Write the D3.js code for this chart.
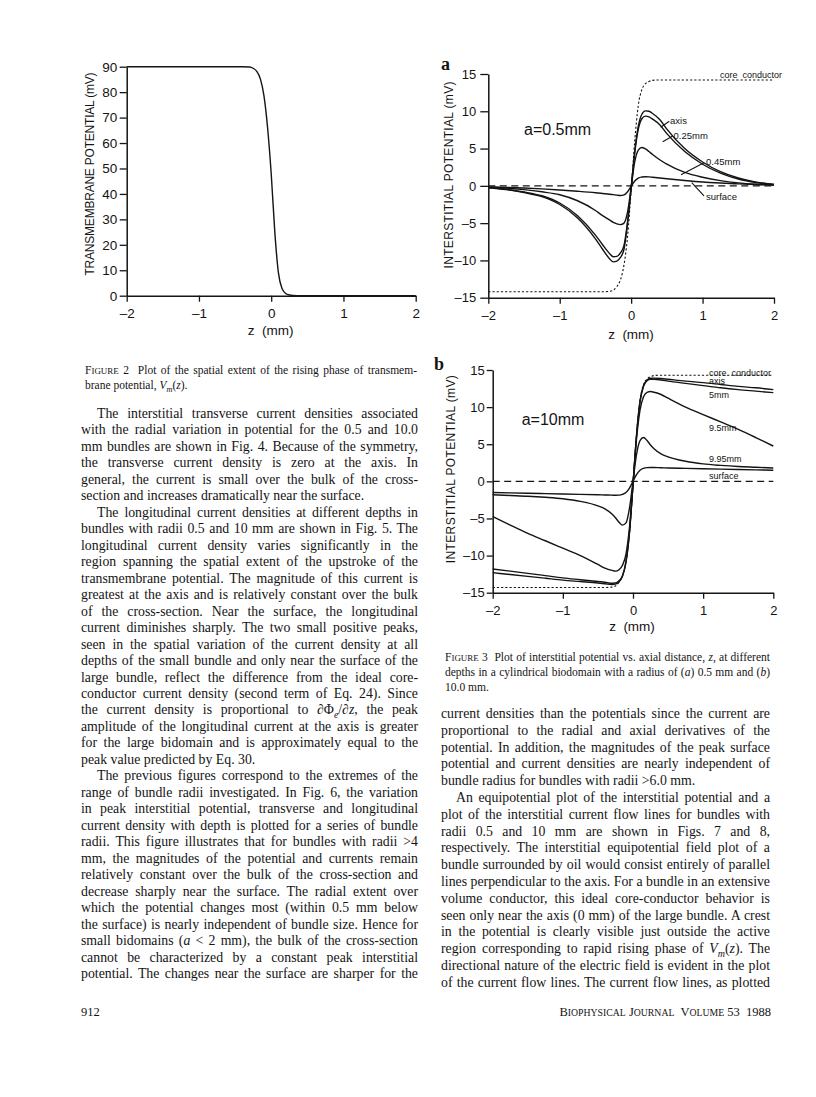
<!DOCTYPE html>
<html><head><meta charset="utf-8">
<script src="https://cdn.jsdelivr.net/npm/d3@7/dist/d3.min.js"></script>
<style>
html,body{margin:0;padding:0;background:#fff;}
svg{display:block;}
</style></head>
<body>
<svg id="page" width="816" height="1097" xmlns="http://www.w3.org/2000/svg"></svg>
<script>
// ---------------- data ----------------
const xTickValues = [-2, -1, 0, 1, 2];
const fig2YTicks = [0, 10, 20, 30, 40, 50, 60, 70, 80, 90];
const fig3YTicks = [-15, -10, -5, 0, 5, 10, 15];

// Figure 2: transmembrane potential Vm(z)
const fig2Z  = [-2, -0.4, -0.3, -0.25, -0.2, -0.15, -0.1, -0.05, 0, 0.05, 0.1, 0.15, 0.2, 0.25, 0.3, 0.4, 2];
const fig2Vm = [90, 90, 89.9, 89.4, 88.2, 85.2, 78.5, 66, 48, 25, 9, 2.8, 0.9, 0.3, 0.08, 0, 0];

// Figure 3 common z grid (mm)
const zGrid = [-2, -1.75, -1.5, -1.25, -1, -0.75, -0.5, -0.4, -0.3, -0.25, -0.2, -0.15, -0.1, -0.05, 0,
               0.05, 0.1, 0.15, 0.2, 0.25, 0.3, 0.4, 0.5, 0.75, 1, 1.25, 1.5, 1.75, 2];

// Figure 3a (a = 0.5 mm)
const coreA = [-14.2, -14.2, -14.2, -14.2, -14.2, -14.2, -14.2, -14.2, -14.15, -14.0, -13.5, -12.6, -10.6, -6.8, -0.6,
               6.0, 10.8, 12.9, 13.7, 14.0, 14.15, 14.2, 14.2, 14.2, 14.2, 14.2, 14.2, 14.2, 14.2];
const axisA = [-0.25, -0.5, -0.9, -1.45, -2.5, -4.3, -7.1, -8.5, -9.8, -10.2, -10.1, -9.6, -8.5, -5.0, -0.3,
               4.6, 8.0, 9.6, 10.05, 10.0, 9.7, 8.9, 7.6, 5.0, 3.2, 1.9, 1.05, 0.5, 0.2];
const r025A = [-0.22, -0.45, -0.82, -1.33, -2.3, -4.0, -6.6, -7.9, -9.1, -9.5, -9.45, -9.0, -8.0, -4.8, -0.3,
               4.4, 7.6, 9.0, 9.35, 9.25, 8.95, 8.2, 7.0, 4.6, 2.9, 1.7, 0.92, 0.45, 0.18];
const r045A = [-0.15, -0.3, -0.5, -0.8, -1.2, -2.0, -3.3, -4.0, -4.6, -4.9, -5.1, -5.2, -5.0, -3.5, -0.2,
               3.2, 4.8, 5.15, 4.95, 4.6, 4.2, 3.5, 2.9, 1.8, 1.15, 0.7, 0.4, 0.22, 0.1];
const surfA = [-0.15, -0.2, -0.28, -0.4, -0.55, -0.72, -0.92, -1.02, -1.12, -1.18, -1.25, -1.3, -1.22, -0.8, -0.05,
               0.65, 1.05, 1.18, 1.22, 1.2, 1.15, 1.05, 0.95, 0.72, 0.52, 0.38, 0.27, 0.18, 0.12];

// Figure 3b (a = 10 mm)
const coreB = [-14.3, -14.3, -14.3, -14.3, -14.3, -14.3, -14.3, -14.3, -14.25, -14.1, -13.6, -12.7, -10.7, -6.9, -0.6,
               6.1, 10.9, 13.0, 13.8, 14.1, 14.25, 14.3, 14.3, 14.3, 14.3, 14.3, 14.3, 14.3, 14.3];
const axisB = [-12.3, -12.55, -12.8, -13.05, -13.3, -13.5, -13.7, -13.8, -13.9, -13.85, -13.55, -12.8, -10.9, -6.9, -0.5,
               6.2, 10.8, 12.9, 13.65, 13.88, 13.9, 13.85, 13.75, 13.5, 13.3, 13.05, 12.8, 12.6, 12.35];
const r5B   = [-11.8, -12.1, -12.4, -12.7, -13.0, -13.25, -13.5, -13.6, -13.72, -13.7, -13.4, -12.7, -10.8, -6.8, -0.45,
               6.1, 10.7, 12.8, 13.55, 13.75, 13.75, 13.65, 13.5, 13.2, 12.9, 12.6, 12.35, 12.15, 11.95];
const r95B  = [-4.75, -5.9, -7.0, -8.0, -9.0, -10.0, -11.2, -11.7, -12.0, -12.1, -11.9, -11.3, -9.8, -6.2, -0.3,
               5.7, 9.6, 11.4, 12.0, 12.1, 12.0, 11.7, 11.2, 10.0, 9.0, 8.0, 7.0, 5.9, 4.75];
const r995B = [-1.8, -1.9, -2.0, -2.15, -2.35, -2.7, -3.3, -3.7, -4.4, -4.9, -5.5, -5.9, -5.6, -3.6, 0,
               3.6, 5.5, 5.9, 5.5, 4.9, 4.4, 3.7, 3.3, 2.7, 2.35, 2.15, 2.0, 1.9, 1.8];
const surfB = [-1.5, -1.55, -1.6, -1.65, -1.7, -1.75, -1.8, -1.83, -1.86, -1.87, -1.85, -1.75, -1.5, -0.9, 0,
               0.9, 1.5, 1.75, 1.85, 1.87, 1.86, 1.83, 1.8, 1.75, 1.7, 1.65, 1.6, 1.55, 1.5];

// ---------------- text ----------------
const leftLines = [
"The interstitial transverse current densities associated",
"with the radial variation in potential for the 0.5 and 10.0",
"mm bundles are shown in Fig. 4. Because of the symmetry,",
"the transverse current density is zero at the axis. In",
"general, the current is small over the bulk of the cross-",
"section and increases dramatically near the surface.",
"The longitudinal current densities at different depths in",
"bundles with radii 0.5 and 10 mm are shown in Fig. 5. The",
"longitudinal current density varies significantly in the",
"region spanning the spatial extent of the upstroke of the",
"transmembrane potential. The magnitude of this current is",
"greatest at the axis and is relatively constant over the bulk",
"of the cross-section. Near the surface, the longitudinal",
"current diminishes sharply. The two small positive peaks,",
"seen in the spatial variation of the current density at all",
"depths of the small bundle and only near the surface of the",
"large bundle, reflect the difference from the ideal core-",
"conductor current density (second term of Eq. 24). Since",
"the current density is proportional to ∂Φ<sub>e</sub>/∂<i>z</i>, the peak",
"amplitude of the longitudinal current at the axis is greater",
"for the large bidomain and is approximately equal to the",
"peak value predicted by Eq. 30.",
"The previous figures correspond to the extremes of the",
"range of bundle radii investigated. In Fig. 6, the variation",
"in peak interstitial potential, transverse and longitudinal",
"current density with depth is plotted for a series of bundle",
"radii. This figure illustrates that for bundles with radii >4",
"mm, the magnitudes of the potential and currents remain",
"relatively constant over the bulk of the cross-section and",
"decrease sharply near the surface. The radial extent over",
"which the potential changes most (within 0.5 mm below",
"the surface) is nearly independent of bundle size. Hence for",
"small bidomains (<i>a</i> < 2 mm), the bulk of the cross-section",
"cannot be characterized by a constant peak interstitial",
"potential. The changes near the surface are sharper for the"
];
const leftParaStarts = [0, 6, 22];
const leftParaEnds = [5, 21];

const rightLines = [
"current densities than the potentials since the current are",
"proportional to the radial and axial derivatives of the",
"potential. In addition, the magnitudes of the peak surface",
"potential and current densities are nearly independent of",
"bundle radius for bundles with radii >6.0 mm.",
"An equipotential plot of the interstitial potential and a",
"plot of the interstitial current flow lines for bundles with",
"radii 0.5 and 10 mm are shown in Figs. 7 and 8,",
"respectively. The interstitial equipotential field plot of a",
"bundle surrounded by oil would consist entirely of parallel",
"lines perpendicular to the axis. For a bundle in an extensive",
"volume conductor, this ideal core-conductor behavior is",
"seen only near the axis (0 mm) of the large bundle. A crest",
"in the potential is clearly visible just outside the active",
"region corresponding to rapid rising phase of <i>V</i><sub>m</sub>(<i>z</i>). The",
"directional nature of the electric field is evident in the plot",
"of the current flow lines. The current flow lines, as plotted"
];
const rightParaStarts = [5];
const rightParaEnds = [4];

const fig2Caption = [
"<sc>Figure</sc> 2  Plot of the spatial extent of the rising phase of transmem-",
"brane potential, <i>V</i><sub>m</sub>(<i>z</i>)."
];
const fig3Caption = [
"<sc>Figure</sc> 3  Plot of interstitial potential vs. axial distance, <i>z</i>, at different",
"depths in a cylindrical biodomain with a radius of (<i>a</i>) 0.5 mm and (<i>b</i>)",
"10.0 mm."
];
const pageNumber = "912";
const journalLine = "<sc>Biophysical</sc> <sc>Journal</sc>  <sc>Volume</sc> 53  1988";

// ---------------- drawing ----------------
const svg = d3.select('#page');
const INK = '#141414';
const SANS = '"Liberation Sans", Arial, sans-serif';
const SERIF = '"Liberation Serif", "Times New Roman", serif';
svg.append('rect').attr('width', 816).attr('height', 1097).attr('fill', '#fff');

const fmt = d => d < 0 ? '\u2013' + Math.abs(d) : String(d);

function addRich(t, str, size) {
  const re = /<(i|sub|sc)>(.*?)<\/\1>/g;
  let last = 0, m, pending = 0;
  const plain = s => {
    if (!s) return;
    const sp = t.append('tspan').text(s);
    if (pending) { sp.attr('dy', -pending); pending = 0; }
  };
  while ((m = re.exec(str))) {
    plain(str.slice(last, m.index));
    if (m[1] === 'sc') {
      const a = t.append('tspan').text(m[2][0].toUpperCase());
      if (pending) { a.attr('dy', -pending); pending = 0; }
      t.append('tspan').attr('font-size', size * 0.78).text(m[2].slice(1).toUpperCase());
    } else if (m[1] === 'i') {
      const a = t.append('tspan').attr('font-style', 'italic').text(m[2]);
      if (pending) { a.attr('dy', -pending); pending = 0; }
    } else {
      const sh = size * 0.28;
      const a = t.append('tspan').attr('font-size', size * 0.72).attr('font-style', 'italic').text(m[2]);
      a.attr('dy', sh - pending); pending = sh;
    }
    last = re.lastIndex;
  }
  plain(str.slice(last));
}

function textLine(g, str, x, y, width, justify, size, anchor) {
  const t = g.append('text').attr('x', x).attr('y', y)
    .attr('font-family', SERIF).attr('font-size', size).attr('fill', INK)
    .attr('xml:space', 'preserve');
  if (anchor) t.attr('text-anchor', anchor);
  addRich(t, str, size);
  if (justify) {
    const w = t.node().getComputedTextLength();
    const n = (t.node().textContent.match(/ /g) || []).length;
    if (n) t.attr('word-spacing', ((width - w) / n).toFixed(3));
  }
  return t;
}

function textColumn(lines, paraStarts, paraEnds, x0, x1, y0, lh, size, indent) {
  const g = svg.append('g');
  lines.forEach((s, i) => {
    const ind = paraStarts.includes(i) ? indent : 0;
    textLine(g, s, x0 + ind, y0 + i * lh, x1 - x0 - ind, !paraEnds.includes(i), size);
  });
}

function drawPanel(p) {
  const g = svg.append('g');
  const x = d3.scaleLinear().domain([-2, 2]).range(p.xRange);
  const y = d3.scaleLinear().domain(p.yDomain).range(p.yRange);

  const gx = g.append('g').attr('transform', `translate(0,${p.yRange[0]})`)
    .call(d3.axisBottom(x).tickValues(xTickValues).tickSize(6).tickSizeOuter(0).tickPadding(p.xPad).tickFormat(fmt));
  const gy = g.append('g').attr('transform', `translate(${p.xRange[0]},0)`)
    .call(d3.axisLeft(y).tickValues(p.yTicks).tickSize(p.yTick).tickSizeOuter(0).tickPadding(p.yPad).tickFormat(fmt));
  [gx, gy].forEach(a => {
    a.select('.domain').attr('stroke', INK).attr('stroke-width', 1.5);
    a.selectAll('.tick line').attr('stroke', INK).attr('stroke-width', 1.3);
    a.selectAll('.tick text').attr('fill', INK).attr('font-family', SANS).attr('font-size', p.tickFont || 13.5);
  });

  // reference lines
  (p.refs || []).forEach(r => {
    g.append('line').attr('x1', x(-2)).attr('x2', x(2)).attr('y1', y(r)).attr('y2', y(r))
      .attr('stroke', INK).attr('stroke-width', 1.2).attr('stroke-dasharray', '7,4.5');
  });

  const line = d3.line().x(d => x(d[0])).y(d => y(d[1])).curve(d3.curveMonotoneX);
  p.series.forEach(s => {
    g.append('path').datum(s.z.map((z, i) => [z, s.v[i]]))
      .attr('d', line).attr('fill', 'none').attr('stroke', INK)
      .attr('stroke-width', s.w || 1.4)
      .attr('stroke-dasharray', s.dash || null);
  });

  // annotations
  (p.notes || []).forEach(n => {
    if (n.leader) {
      g.append('line').attr('x1', x(n.leader[0][0])).attr('y1', y(n.leader[0][1]))
        .attr('x2', x(n.leader[1][0])).attr('y2', y(n.leader[1][1]))
        .attr('stroke', INK).attr('stroke-width', 1.1);
    }
    g.append('text').attr('x', x(n.z)).attr('y', y(n.v)).attr('font-family', SANS)
      .attr('font-size', n.size || 9.5).attr('xml:space', 'preserve')
      .attr('fill', INK).text(n.text);
  });

  // axis titles
  g.append('text').attr('x', p.xTitle[0]).attr('y', p.xTitle[1]).attr('text-anchor', 'middle')
    .attr('font-family', SANS).attr('font-size', 13.5).attr('fill', INK).attr('xml:space', 'preserve')
    .text('z  (mm)');
  g.append('text').attr('transform', `translate(${p.yTitle[0]},${p.yTitle[1]}) rotate(-90)`)
    .attr('text-anchor', 'middle').attr('font-family', SANS).attr('font-size', 12).attr('fill', INK)
    .attr('textLength', p.yTitle[2]).attr('lengthAdjust', 'spacing')
    .text(p.yLabel);

  if (p.panel) {
    g.append('text').attr('x', p.panel[0]).attr('y', p.panel[1]).attr('font-family', SERIF)
      .attr('font-weight', 'bold').attr('font-size', 18).attr('fill', INK).text(p.panel[2]);
  }
}

// Figure 2
drawPanel({
  xRange: [126.7, 415.7], yDomain: [0, 90], yRange: [295.7, 66.7], yTicks: fig2YTicks,
  yTick: 7, yPad: 2.5, xPad: 6.5,
  series: [{ z: fig2Z, v: fig2Vm, w: 1.4 }],
  xTitle: [270.7, 335], yTitle: [94, 174, 203], yLabel: 'TRANSMEMBRANE  POTENTIAL  (mV)'
});

// Figure 3a
drawPanel({
  xRange: [488.3, 774], yDomain: [-15, 15], yRange: [297.7, 74], yTicks: fig3YTicks,
  yTick: 8, yPad: 4, xPad: 7, tickFont: 13,
  refs: [0],
  series: [
    { z: zGrid, v: coreA, dash: '2.2,2', w: 1.1 },
    { z: zGrid, v: axisA }, { z: zGrid, v: r025A }, { z: zGrid, v: r045A }, { z: zGrid, v: surfA }
  ],
  notes: [
    { text: 'core  conductor', z: 1.244, v: 14.46, size: 9 },
    { text: 'axis', z: 0.545, v: 8.29, leader: [[0.414, 7.85], [0.534, 8.66]] },
    { text: '0.25mm', z: 0.593, v: 6.22, leader: [[0.442, 5.92], [0.582, 6.69]] },
    { text: '0.45mm', z: 1.048, v: 2.80, leader: [[0.698, 1.50], [1.02, 3.11]] },
    { text: 'surface', z: 1.048, v: -1.9, leader: [[0.848, 0.42], [1.02, -1.36]] },
    { text: 'a=0.5mm', z: -1.5, v: 6.8, size: 16 }
  ],
  xTitle: [631, 339], yTitle: [453, 175, 187], yLabel: 'INTERSTITIAL  POTENTIAL  (mV)',
  panel: [441, 70, 'a']
});

// Figure 3b
drawPanel({
  xRange: [492.7, 773.3], yDomain: [-15, 15], yRange: [592.7, 370], yTicks: fig3YTicks,
  yTick: 6, yPad: 2, xPad: 7, tickFont: 13,
  refs: [0],
  series: [
    { z: zGrid, v: coreB, dash: '2.2,2', w: 1.1 },
    { z: zGrid, v: axisB }, { z: zGrid, v: r5B }, { z: zGrid, v: r95B }, { z: zGrid, v: r995B }, { z: zGrid, v: surfB }
  ],
  notes: [
    { text: 'core  conductor', z: 1.083, v: 14.23, size: 9 },
    { text: 'axis', z: 1.083, v: 13.15, size: 9 },
    { text: '5mm', z: 1.083, v: 11.23, size: 9 },
    { text: '9.5mm', z: 1.083, v: 6.75, size: 9 },
    { text: '9.95mm', z: 1.083, v: 2.61, size: 9 },
    { text: 'surface', z: 1.083, v: 0.32, size: 9 },
    { text: 'a=10mm', z: -1.587, v: 7.6, size: 16 }
  ],
  xTitle: [632, 631], yTitle: [455, 469.2, 188], yLabel: 'INTERSTITIAL  POTENTIAL  (mV)',
  panel: [434, 370, 'b']
});

// Captions
const capG = svg.append('g');
fig2Caption.forEach((s, i) => textLine(capG, s, 85, 374 + i * 15, 332, i < fig2Caption.length - 1, 11.5));
fig3Caption.forEach((s, i) => textLine(capG, s, 445, 660.5 + i * 15, 325, i < fig3Caption.length - 1, 11.5));

// Body columns
textColumn(leftLines, leftParaStarts, leftParaEnds, 81, 418, 418, 16.47, 13.8, 16);
textColumn(rightLines, rightParaStarts, rightParaEnds, 441, 770, 718, 16.8, 13.8, 15);

// Footer
const foot = svg.append('g');
textLine(foot, pageNumber, 81, 1016, 0, false, 12.5);
textLine(foot, journalLine, 771, 1016, 0, false, 12.5, 'end');
</script>
</body></html>
